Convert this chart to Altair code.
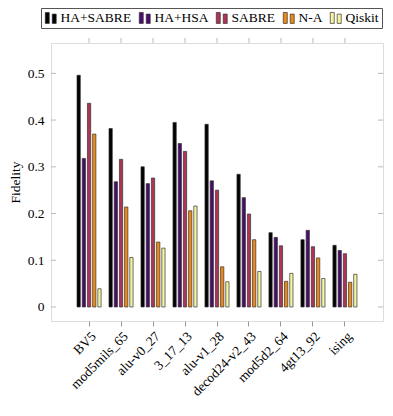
import altair as alt
import pandas as pd

categories = ["BV5", "mod5mils_65", "alu-v0_27", "3_17_13", "alu-v1_28",
              "decod24-v2_43", "mod5d2_64", "4gt13_92", "ising"]
series = ["HA+SABRE", "HA+HSA", "SABRE", "N-A", "Qiskit"]
colors = ["#000000", "#4a0c6b", "#ae3453", "#ec8a16", "#f6f29e"]

ha_sabre = [0.496, 0.382, 0.300, 0.395, 0.391, 0.284, 0.159, 0.144, 0.132]
ha_hsa = [0.318, 0.268, 0.264, 0.350, 0.270, 0.234, 0.149, 0.164, 0.121]
sabre = [0.436, 0.316, 0.276, 0.333, 0.250, 0.199, 0.131, 0.129, 0.114]
n_a = [0.370, 0.214, 0.139, 0.206, 0.086, 0.144, 0.055, 0.105, 0.053]
qiskit = [0.039, 0.106, 0.126, 0.216, 0.054, 0.076, 0.072, 0.061, 0.070]

y_ticks = [0, 0.1, 0.2, 0.3, 0.4, 0.5]

rows = []
for s, vals in zip(series, [ha_sabre, ha_hsa, sabre, n_a, qiskit]):
    for c, v in zip(categories, vals):
        rows.append({"cat": c, "series": s, "v": v})
df = pd.DataFrame(rows)
tick_df = pd.DataFrame({"v": y_ticks})
cat_df = pd.DataFrame({"cat": categories})

FONT = "Liberation Serif"
W, H = 332, 278

x_scale = alt.Scale(domain=categories, paddingInner=0, paddingOuter=0.69)
y_scale = alt.Scale(domain=[-0.03, 0.565], nice=False, zero=False)

x_axis = alt.Axis(labelAngle=315, labelFont=FONT, labelFontSize=13.5,
                  labelColor="#000", tickSize=5, tickColor="#999",
                  labelPadding=3, domain=False, grid=False)
y_axis = alt.Axis(values=y_ticks, ticks=False, domain=False, grid=False,
                  labelExpr="datum.value == 0 ? '0' : format(datum.value, '.1f')",
                  labelFont=FONT, labelFontSize=13.5, labelColor="#000",
                  labelPadding=7, titleFont=FONT, titleFontSize=13.5,
                  titleFontWeight="normal", titleColor="#000", titlePadding=5)

bars = alt.Chart(df).mark_bar(stroke="#333333", strokeWidth=0.7).encode(
    x=alt.X("cat:N", scale=x_scale, sort=categories, title=None, axis=x_axis),
    xOffset=alt.XOffset("series:N", sort=series,
                        scale=alt.Scale(domain=series, paddingInner=0.37, paddingOuter=0.76)),
    y=alt.Y("v:Q", scale=y_scale, title="Fidelity", axis=y_axis),
    color=alt.Color("series:N", sort=series,
                    scale=alt.Scale(domain=series, range=colors),
                    legend=alt.Legend(
                        title=None, orient="none", legendX=-10, legendY=-35,
                        direction="horizontal", columns=5,
                        symbolType="M-1,-1H-0.27V1H-1Z M0.27,-0.7H1V1H0.27Z",
                        symbolSize=120, symbolStrokeColor="#333333",
                        symbolStrokeWidth=0.7, symbolOpacity=1,
                        labelFont=FONT, labelFontSize=13.5, labelColor="#000",
                        labelOffset=3, columnPadding=5, padding=3,
                        strokeColor="#555555", fillColor="white")),
)

left_ticks = alt.Chart(tick_df).mark_rule(color="#aaaaaa", strokeWidth=0.8).encode(
    y=alt.Y("v:Q", scale=y_scale, title="Fidelity", axis=y_axis),
    x=alt.value(0), x2=alt.value(5))
right_ticks = alt.Chart(tick_df).mark_rule(color="#aaaaaa", strokeWidth=0.8).encode(
    y=alt.Y("v:Q", scale=y_scale, title="Fidelity", axis=y_axis),
    x=alt.value(W - 5), x2=alt.value(W))
top_ticks = alt.Chart(cat_df).mark_rule(color="#aaaaaa", strokeWidth=0.8).encode(
    x=alt.X("cat:N", scale=x_scale, sort=categories, title=None, axis=x_axis),
    y=alt.value(0), y2=alt.value(-5))

chart = alt.layer(bars, left_ticks, right_ticks, top_ticks).properties(
    width=W, height=H,
    autosize=alt.AutoSizeParams(type="none"),
    padding={"left": 43, "top": 35, "right": 2, "bottom": 80},
).configure_view(stroke="#333333", strokeWidth=1).configure(background="white")

chart.save("out.html", embed_options={"renderer": "svg", "actions": False})
